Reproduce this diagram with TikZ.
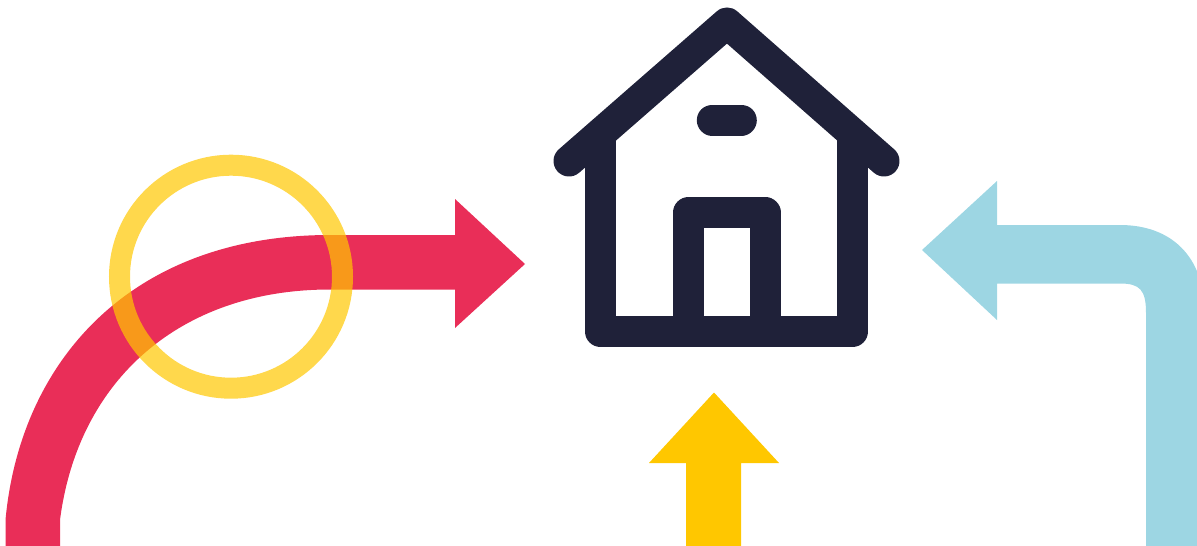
\documentclass[tikz,border=0pt]{standalone}

\definecolor{housedark}{HTML}{1F2139}
\definecolor{arrowred}{HTML}{E92E58}
\definecolor{arrowblue}{HTML}{9DD6E3}
\definecolor{arrowyellow}{HTML}{FFC700}

\newcommand*{\xmax}{1197}
\newcommand*{\ymax}{546}

\begin{document}
\begin{tikzpicture}
[
	x=1pt,y=-1pt,
	housepart/.style={draw=housedark,line width=31pt,line join=round},
	ringpart/.style={draw=arrowyellow,draw opacity=0.7,line width=21pt}
]

	\clip (0,0) rectangle (\xmax,\ymax);

	% arrows
	\fill[arrowred] (5.5,\ymax) -- (5.5,520) .. controls (20,362) and (130,235) .. (330,235) -- (455,235) -- (455,199) -- (525,264) -- (455,328) -- (455,289.5) -- (330,289.5) .. controls (180,289.5) and (78,380) .. (60,520) -- (60,\ymax) -- cycle;
	\fill[arrowblue] (1146,\ymax) -- (1146,313) .. controls (1146,290) and (1140,283.5) .. (1120,283.5) -- (997,283.5) -- (997,320) -- (922,250) -- (997,181) -- (997,225) -- (1120,225) .. controls (1170,225) and (1205,255) .. (1205,315) -- (1205,\ymax) -- cycle;
	\fill[arrowyellow] (686,\ymax) -- (686,463) -- (649,463) -- (714,392.5) -- (779,463) -- (741,463) -- (741,\ymax) -- cycle;

	% ring
	\draw[ringpart] (231,276.7) circle (111.5);

	% house
	\draw[housepart,line cap=round] (569,161) -- (727,23) -- (884,161);
	\draw[housepart] (600.5,135) -- (600.5,331.5) -- (852.5,331.5) -- (852.5,135);
	\draw[housepart] (688.5,331.5) -- (688.5,212.7) -- (765,212.7) -- (765,331.5);
	\draw[housepart,line cap=round] (712.3,120) -- (741.3,120);

\end{tikzpicture}
\end{document}
